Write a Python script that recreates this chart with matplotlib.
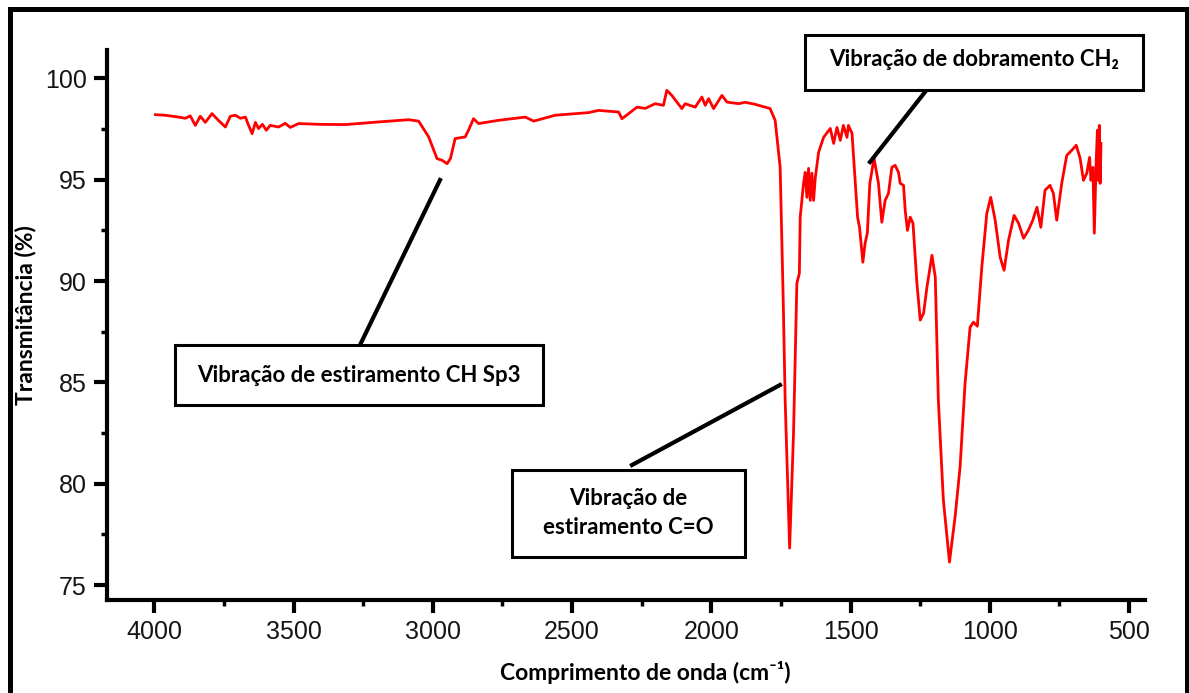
import matplotlib
matplotlib.use('Agg')
import matplotlib.pyplot as plt
from matplotlib.patches import Rectangle
from matplotlib.lines import Line2D
from matplotlib.ticker import MultipleLocator

# ---- data ----
wavenumber = [3996, 3961, 3913, 3889, 3871, 3853, 3835, 3817, 3793, 3770,
              3745, 3727, 3709, 3691, 3673, 3663, 3649, 3637, 3626, 3612,
              3598, 3584, 3554, 3530, 3512, 3482, 3404, 3314, 3195, 3087,
              3051, 3015, 2985, 2967, 2949, 2937, 2920, 2884, 2872, 2854,
              2836, 2764, 2668, 2638, 2561, 2441, 2405, 2333, 2321, 2297,
              2267, 2237, 2202, 2172, 2160, 2142, 2106, 2094, 2058, 2034,
              2022, 2010, 1992, 1962, 1944, 1902, 1878, 1843, 1789, 1771,
              1753, 1742, 1735, 1719, 1705, 1693, 1684, 1681, 1669, 1663,
              1657, 1651, 1645, 1639, 1633, 1627, 1615, 1597, 1573, 1561,
              1549, 1537, 1526, 1513, 1508, 1495, 1484, 1475, 1468, 1456,
              1448, 1440, 1431, 1416, 1400, 1388, 1376, 1364, 1352, 1340,
              1328, 1322, 1310, 1304, 1296, 1286, 1276, 1262, 1250, 1238,
              1226, 1208, 1196, 1185, 1167, 1145, 1125, 1107, 1089, 1071,
              1059, 1045, 1029, 1011, 997, 981, 963, 949, 933, 913,
              897, 879, 862, 846, 831, 817, 802, 784, 772, 760,
              742, 724, 706, 690, 676, 664, 652, 642, 637, 630,
              625, 619, 614, 611, 607, 604, 601]
transmittance = [98.21, 98.18, 98.09, 98.03, 98.15, 97.68, 98.13, 97.83, 98.26, 97.93,
                 97.60, 98.13, 98.18, 98.03, 98.09, 97.73, 97.27, 97.83, 97.52, 97.73,
                 97.44, 97.68, 97.60, 97.78, 97.58, 97.77, 97.73, 97.72, 97.85, 97.96,
                 97.89, 97.11, 96.04, 95.96, 95.79, 96.04, 97.03, 97.11, 97.44, 98.01,
                 97.77, 97.93, 98.09, 97.89, 98.18, 98.31, 98.42, 98.34, 98.01, 98.26,
                 98.58, 98.52, 98.75, 98.67, 99.41, 99.16, 98.51, 98.75, 98.58, 99.08,
                 98.67, 99.00, 98.51, 99.16, 98.83, 98.75, 98.82, 98.72, 98.51, 97.93,
                 95.61, 89.05, 84.12, 76.82, 82.49, 89.89, 90.38, 93.15, 94.82, 95.36,
                 94.13, 95.56, 93.98, 95.32, 93.98, 95.07, 96.35, 97.09, 97.53, 96.79,
                 97.58, 96.94, 97.68, 97.09, 97.68, 97.29, 94.97, 93.15, 92.65, 90.93,
                 91.86, 92.36, 94.82, 96.06, 94.82, 92.90, 93.98, 94.33, 95.61, 95.71,
                 95.36, 94.82, 94.72, 93.49, 92.50, 93.15, 92.85, 89.89, 88.07, 88.41,
                 89.69, 91.27, 90.19, 84.12, 79.19, 76.13, 78.35, 80.82, 84.96, 87.72,
                 87.97, 87.77, 90.68, 93.34, 94.13, 93.00, 91.17, 90.53, 92.01, 93.24,
                 92.85, 92.11, 92.50, 93.00, 93.64, 92.65, 94.48, 94.72, 94.33, 93.00,
                 94.82, 96.20, 96.45, 96.70, 96.06, 94.97, 95.32, 96.10, 94.97, 95.61,
                 92.36, 95.61, 97.44, 94.97, 97.68, 94.82, 96.79]

x_ticks = [4000, 3500, 3000, 2500, 2000, 1500, 1000, 500]
y_ticks = [75, 80, 85, 90, 95, 100]

x_label = "Comprimento de onda (cm\u207b\u00b9)"
y_label = "Transmitância (%)"
note_ch = "Vibração de estiramento CH Sp3"
note_co = "Vibração de\nestiramento C=O"
note_ch2 = "Vibração de dobramento CH\u2082"

# ---- layout ----
W, H = 1189, 693
fig = plt.figure(figsize=(W / 100, H / 100), dpi=100)
fig.patch.set_facecolor('white')


def fx(px):
    return px / W


def fy(py):
    return 1 - py / H


ax = fig.add_axes([fx(107), fy(600), (1145 - 107) / W, (600 - 50) / H])
ax.plot(wavenumber, transmittance, color='#ff0000', lw=2.0)
ax.set_xlim(4170, 443)
ax.set_ylim(74.26, 101.4)

for s in ['top', 'right']:
    ax.spines[s].set_visible(False)
for s in ['left', 'bottom']:
    ax.spines[s].set_linewidth(3)

ax.set_xticks(x_ticks)
ax.set_yticks(y_ticks)
ax.xaxis.set_minor_locator(MultipleLocator(250))
ax.yaxis.set_minor_locator(MultipleLocator(2.5))
ax.tick_params(which='major', direction='out', length=9.5, width=3,
               labelsize=18, pad=5)
ax.tick_params(which='minor', direction='out', length=4.5, width=2.5)
for lab in ax.get_xticklabels() + ax.get_yticklabels():
    lab.set_fontfamily(['Liberation Sans', 'DejaVu Sans'])
    lab.set_color('#151515')

lab_font = ['Lato', 'DejaVu Sans']
fig.text(fx(645), fy(673), x_label, ha='center', va='center',
         fontsize=16.5, fontweight='bold', family=lab_font)
fig.text(fx(26), fy(315), y_label, ha='center', va='center', rotation=90,
         fontsize=16.5, fontweight='bold', family=lab_font)

# annotation boxes
boxes = [((175, 345, 543, 405), note_ch, (359, 375)),
         ((512, 470, 745, 557), note_co, (628, 513)),
         ((805, 35, 1143, 90), note_ch2, (974, 60))]
for (x0, y0, x1, y1), txt, (tx, ty) in boxes:
    fig.add_artist(Rectangle((fx(x0), fy(y1)), (x1 - x0) / W, (y1 - y0) / H,
                             transform=fig.transFigure, fill=True,
                             facecolor='white', edgecolor='black', lw=2.2,
                             zorder=5))
    fig.text(fx(tx), fy(ty), txt, ha='center', va='center', fontsize=16,
             fontweight='bold', family=lab_font, zorder=6, linespacing=1.45)

# connector lines
for (xa, ya), (xb, yb) in [((360, 345), (440, 180)),
                           ((632, 465), (780, 385)),
                           ((870, 162), (925, 92))]:
    fig.add_artist(Line2D([fx(xa), fx(xb)], [fy(ya), fy(yb)],
                          transform=fig.transFigure, color='black', lw=3,
                          zorder=4))

# outer frame
fig.add_artist(Rectangle((fx(10), -0.1), (1187 - 10) / W, fy(9) + 0.1,
                         transform=fig.transFigure, fill=False,
                         edgecolor='black', lw=3.6, clip_on=False))

fig.savefig('out.png', dpi=100)
